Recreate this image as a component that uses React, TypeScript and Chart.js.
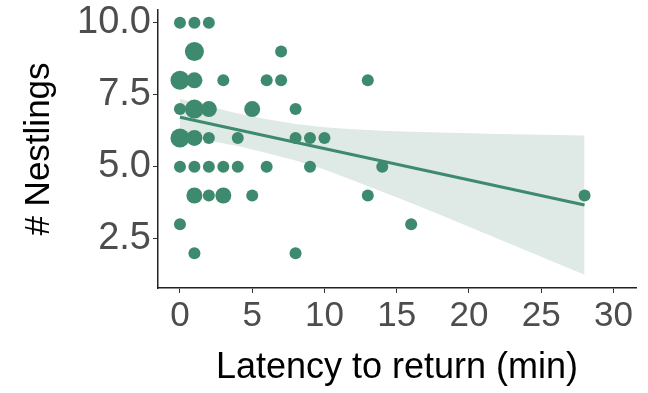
import React, { useEffect, useRef } from "react";
import { Chart, registerables } from "chart.js";

Chart.register(...registerables);

// Observed data: latency (min), number of nestlings, number of overlapping nests
const latency = [0, 1, 2, 1, 7, 0, 1, 3, 6, 7, 13, 0, 1, 2, 5, 8, 0, 1, 2, 4, 8, 9, 10, 0, 1, 2, 3, 4, 6, 9, 14, 1, 2, 3, 5, 13, 28, 0, 16, 1, 8];
const nestlings = [10, 10, 10, 9, 9, 8, 8, 8, 8, 8, 8, 7, 7, 7, 7, 7, 6, 6, 6, 6, 6, 6, 6, 5, 5, 5, 5, 5, 5, 5, 5, 4, 4, 4, 4, 4, 4, 3, 3, 2, 2];
const counts = [1, 1, 1, 3, 1, 3, 2, 1, 1, 1, 1, 1, 3, 2, 2, 1, 3, 2, 1, 1, 1, 1, 1, 1, 1, 1, 1, 1, 1, 1, 1, 2, 1, 2, 1, 1, 1, 1, 1, 1, 1];

// Fitted regression line endpoints
const fitX = [0, 28];
const fitY = [6.72, 3.67];

// Confidence band
const bandX = [0, 2, 4, 6, 8, 10, 12, 14, 16, 18, 20, 22, 24, 26, 28];
const bandUpper = [7.35, 7.1, 6.85, 6.65, 6.48, 6.37, 6.3, 6.25, 6.21, 6.19, 6.16, 6.14, 6.12, 6.1, 6.08];
const bandLower = [6.1, 5.9, 5.72, 5.48, 5.22, 4.9, 4.52, 4.13, 3.74, 3.33, 2.92, 2.5, 2.08, 1.67, 1.25];

const xTicks = [0, 5, 10, 15, 20, 25, 30];
const yTicks = [2.5, 5.0, 7.5, 10.0];

const GREEN = "#3e8a6e";
const BAND = "#dfe9e5";
const FONT = "'Liberation Sans', Arial, sans-serif";

const radiusFor = (c: number) => (c >= 3 ? 9.5 : c === 2 ? 8 : 6);

export default function App() {
  const ref = useRef<HTMLCanvasElement | null>(null);

  useEffect(() => {
    if (!ref.current) return;
    const points = latency.map((x, i) => ({ x, y: nestlings[i] }));
    const chart = new Chart(ref.current, {
      type: "scatter",
      data: {
        datasets: [
          {
            type: "line",
            data: bandX.map((x, i) => ({ x, y: bandUpper[i] })),
            borderWidth: 0,
            pointRadius: 0,
            backgroundColor: BAND,
            fill: "+1",
            order: 3,
          } as any,
          {
            type: "line",
            data: bandX.map((x, i) => ({ x, y: bandLower[i] })),
            borderWidth: 0,
            pointRadius: 0,
            backgroundColor: BAND,
            fill: false,
            order: 4,
          } as any,
          {
            type: "line",
            data: fitX.map((x, i) => ({ x, y: fitY[i] })),
            borderColor: GREEN,
            borderWidth: 3,
            pointRadius: 0,
            fill: false,
            order: 2,
          } as any,
          {
            type: "scatter",
            data: points,
            backgroundColor: GREEN,
            borderWidth: 0,
            pointRadius: (ctx: any) => radiusFor(counts[ctx.dataIndex] ?? 1),
            order: 1,
          } as any,
        ],
      },
      options: {
        responsive: false,
        animation: false,
        devicePixelRatio: 1,
        layout: { padding: { top: 10, right: 12, left: 0, bottom: 0 } },
        plugins: { legend: { display: false }, tooltip: { enabled: false } },
        scales: {
          x: {
            type: "linear",
            min: -1.52,
            max: 31.56,
            afterBuildTicks: (axis: any) => {
              axis.ticks = xTicks.map((v) => ({ value: v }));
            },
            afterFit: (axis: any) => {
              axis.height = 105;
              axis.paddingLeft = 0;
              axis.paddingRight = 0;
            },
            grid: { drawOnChartArea: false, drawTicks: true, tickLength: 5, color: "#333", lineWidth: 1 },
            border: { display: true, color: "#222", width: 1.5 },
            ticks: {
              color: "#4d4d4d",
              font: { family: FONT, size: 35 },
              padding: 2,
              maxRotation: 0,
              callback: (v: any) => String(v),
            },
            title: {
              display: true,
              text: "Latency to return (min)",
              color: "#000",
              font: { family: FONT, size: 36, lineHeight: 1.2 },
              padding: { top: 0, bottom: 3 },
            },
          },
          y: {
            type: "linear",
            min: 0.79,
            max: 10.44,
            afterBuildTicks: (axis: any) => {
              axis.ticks = yTicks.map((v) => ({ value: v }));
            },
            afterFit: (axis: any) => {
              axis.width = 158;
              axis.paddingTop = 0;
              axis.paddingBottom = 0;
            },
            grid: { drawOnChartArea: false, drawTicks: true, tickLength: 5, color: "#333", lineWidth: 1 },
            border: { display: true, color: "#222", width: 1.5 },
            ticks: {
              color: "#4d4d4d",
              font: { family: FONT, size: 38 },
              padding: 2,
              callback: (v: any) => Number(v).toFixed(1),
            },
            title: {
              display: true,
              text: "# Nestlings",
              color: "#000",
              font: { family: FONT, size: 35, lineHeight: 1.2 },
              padding: { top: 18, bottom: 0 },
            },
          },
        },
      },
    });
    return () => chart.destroy();
  }, []);

  return (
    <div style={{ position: "fixed", left: 0, top: 0, width: 648, height: 393, background: "#fff" }}>
      <canvas ref={ref} width={648} height={393} style={{ width: 648, height: 393 }} />
    </div>
  );
}
